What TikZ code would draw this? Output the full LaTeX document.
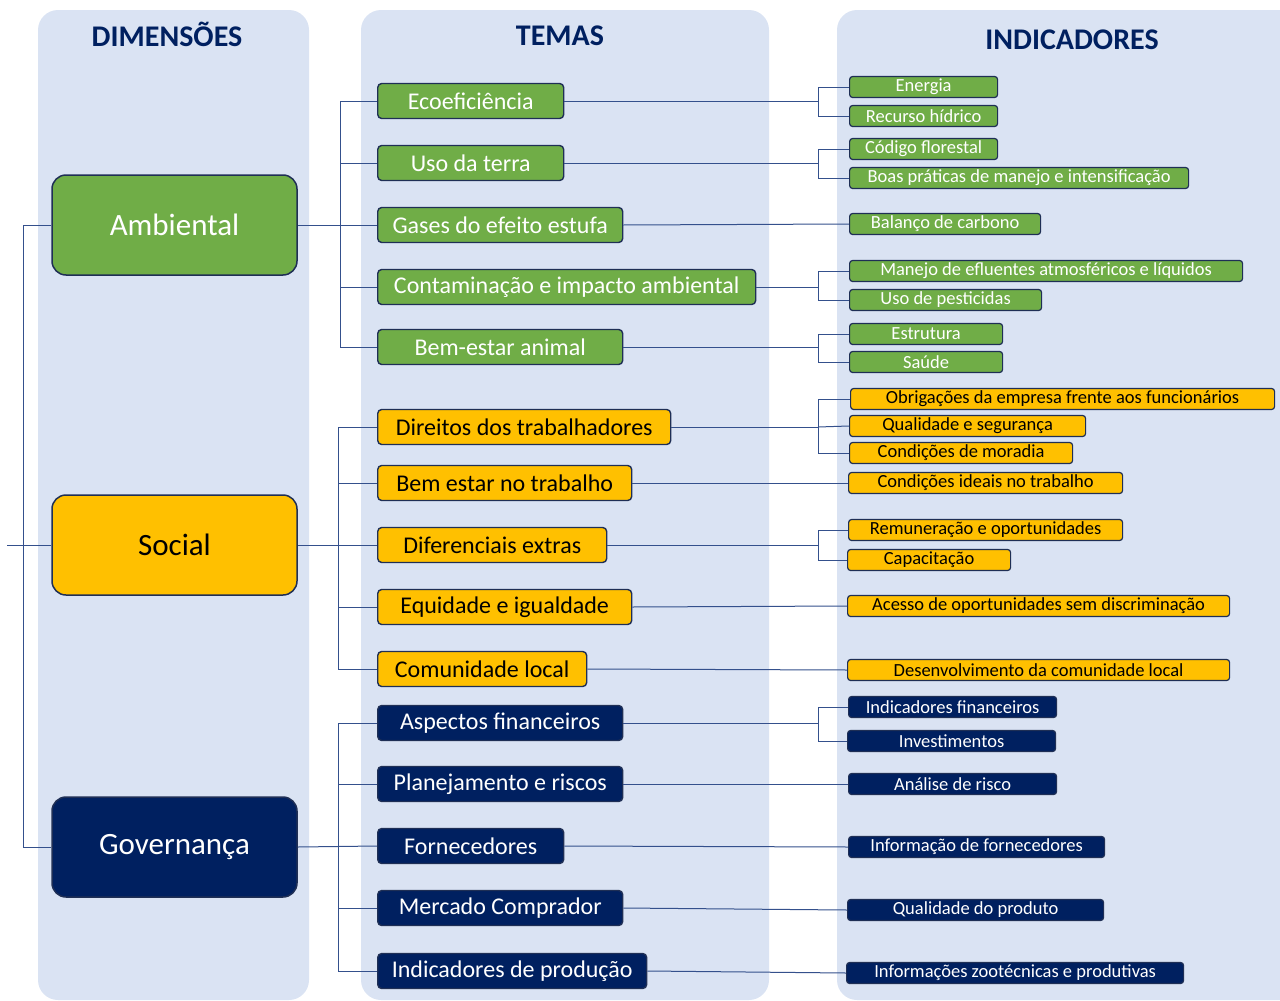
\documentclass[tikz,border=0pt]{standalone}
\usepackage{fontspec}
\setmainfont{Carlito}
\usepackage{tikz}
\definecolor{painel}{HTML}{DAE3F3}
\definecolor{verde}{HTML}{70AD47}
\definecolor{ouro}{HTML}{FFC000}
\definecolor{marinho}{HTML}{002060}
\definecolor{borda}{HTML}{1F2F55}
\definecolor{linha}{HTML}{34508C}

\begin{document}
\begin{tikzpicture}[x=1pt, y=-1pt]
	\tikzstyle{dim} = [rectangle, rounded corners=14pt, draw=borda, line width=1.5pt, minimum width=245pt, minimum height=100pt, font=\fontsize{31}{37}\selectfont]
	\tikzstyle{tema} = [rectangle, rounded corners=4pt, draw=borda, line width=1.4pt, anchor=west, minimum height=35pt, inner sep=0pt, font=\fontsize{24}{28}\selectfont]
	\tikzstyle{ind} = [rectangle, rounded corners=3pt, draw=borda, line width=1.2pt, anchor=west, minimum height=21pt, inner sep=0pt, font=\fontsize{18.5}{21}\selectfont]
	\tikzstyle{amb} = [fill=verde, text=white]
	\tikzstyle{soc} = [fill=ouro, text=black]
	\tikzstyle{gov} = [fill=marinho, text=white]
	\tikzstyle{con} = [draw=linha, line width=1pt]
	\tikzstyle{titulo} = [font=\bfseries\fontsize{30}{36}\selectfont, text=marinho]
	\useasboundingbox (0,0) rectangle (1280,1001);
	
	% colunas
	\fill[painel, rounded corners=20pt] (38,10) rectangle (309,1000);
	\fill[painel, rounded corners=20pt] (361,10) rectangle (769,1000);
	\fill[painel, rounded corners=20pt] (837,10) rectangle (1310,1000);
	
	\node[titulo] (hDim) at (167,34) {DIMENSÕES};
	\node[titulo] (hTem) at (560,36) {TEMAS};
	\node[titulo] (hInd) at (1072,40) {INDICADORES};
	
	% dimensoes
	\node[dim, amb] (Amb) at (174.5,225) {Ambiental};
	\node[dim, soc] (Soc) at (174.5,545) {Social};
	\node[dim, gov] (Gov) at (174.5,847) {Governança};
	
	% temas
	\node[tema, amb, minimum width=186pt] (T1) at (377,101) {Ecoeficiência};
	\node[tema, amb, minimum width=186pt] (T2) at (377,163) {Uso da terra};
	\node[tema, amb, minimum width=245pt] (T3) at (377,225) {Gases do efeito estufa};
	\node[tema, amb, minimum width=378pt] (T4) at (377,287) {Contaminação e impacto ambiental};
	\node[tema, amb, minimum width=245pt] (T5) at (377,347) {Bem-estar animal};
	
	\node[tema, soc, minimum width=293pt] (T6) at (377,427) {Direitos dos trabalhadores};
	\node[tema, soc, minimum width=254pt] (T7) at (377,483) {Bem estar no trabalho};
	\node[tema, soc, minimum width=229pt] (T8) at (377,545) {Diferenciais extras};
	\node[tema, soc, minimum width=254pt] (T9) at (377,607) {Equidade e igualdade};
	\node[tema, soc, minimum width=209pt] (T10) at (377,669) {Comunidade local};
	
	\node[tema, gov, minimum width=245pt] (T11) at (377,723) {Aspectos financeiros};
	\node[tema, gov, minimum width=245pt] (T12) at (377,784) {Planejamento e riscos};
	\node[tema, gov, minimum width=186pt] (T13) at (377,846) {Fornecedores};
	\node[tema, gov, minimum width=245pt] (T14) at (377,908) {Mercado Comprador};
	\node[tema, gov, minimum width=269pt] (T15) at (377,971) {Indicadores de produção};
	
	% indicadores
	\node[ind, amb, minimum width=148pt] (I1) at (849,87) {Energia};
	\node[ind, amb, minimum width=148pt] (I2) at (849,116) {Recurso hídrico};
	\node[ind, amb, minimum width=148pt] (I3) at (849,149) {Código florestal};
	\node[ind, amb, minimum width=339pt] (I4) at (849,178) {Boas práticas de manejo e intensificação};
	\node[ind, amb, minimum width=191pt] (I5) at (849,224) {Balanço de carbono};
	\node[ind, amb, minimum width=393pt] (I6) at (849,271) {Manejo de efluentes atmosféricos e líquidos};
	\node[ind, amb, minimum width=192pt] (I7) at (849,300) {Uso de pesticidas};
	\node[ind, amb, minimum width=153pt] (I8) at (849,334) {Estrutura};
	\node[ind, amb, minimum width=153pt] (I9) at (849,362) {Saúde};
	
	\node[ind, soc, minimum width=424pt] (I10) at (850,399) {Obrigações da empresa frente aos funcionários};
	\node[ind, soc, minimum width=236pt] (I11) at (849,426) {Qualidade e segurança};
	\node[ind, soc, minimum width=223pt] (I12) at (849,453) {Condições de moradia};
	\node[ind, soc, minimum width=274pt] (I13) at (848,483) {Condições ideais no trabalho};
	\node[ind, soc, minimum width=274pt] (I14) at (848,530) {Remuneração e oportunidades};
	\node[ind, soc, minimum width=163pt] (I15) at (847,560) {Capacitação};
	\node[ind, soc, minimum width=382pt] (I16) at (847,606) {Acesso de oportunidades sem discriminação};
	\node[ind, soc, minimum width=382pt] (I17) at (847,670) {Desenvolvimento da comunidade local};
	
	\node[ind, gov, minimum width=208pt] (I18) at (848,707) {Indicadores financeiros};
	\node[ind, gov, minimum width=208pt] (I19) at (847,741) {Investimentos};
	\node[ind, gov, minimum width=208pt] (I20) at (848,784) {Análise de risco};
	\node[ind, gov, minimum width=256pt] (I21) at (848,847) {Informação de fornecedores};
	\node[ind, gov, minimum width=256pt] (I22) at (847,910) {Qualidade do produto};
	\node[ind, gov, minimum width=337pt] (I23) at (846,973) {Informações zootécnicas e produtivas};
	
	% ligacoes dimensoes
	\coordinate (ls) at (23,0);
	\coordinate (sl) at (7,545);
	\draw[con] (Amb.west) -- (Amb.west -| ls) -- (Gov.west -| ls) -- (Gov.west);
	\draw[con] (sl) -- (Soc.west);
	
	% ligacoes temas
	\coordinate (spA) at (340,0);
	\coordinate (spS) at (338,0);
	\draw[con] (Amb.east) -- (T3.west);
	\draw[con] (T1.west) -- (T1.west -| spA) -- (T5.west -| spA) -- (T5.west);
	\draw[con] (T2.west) -- (T2.west -| spA);
	\draw[con] (T4.west) -- (T4.west -| spA);
	
	\draw[con] (Soc.east) -- (T8.west);
	\draw[con] (T6.west) -- (T6.west -| spS) -- (T10.west -| spS) -- (T10.west);
	\draw[con] (T7.west) -- (T7.west -| spS);
	\draw[con] (T9.west) -- (T9.west -| spS);
	
	\draw[con] (Gov.east) -- (T13.west);
	\draw[con] (T11.west) -- (T11.west -| spS) -- (T15.west -| spS) -- (T15.west);
	\draw[con] (T12.west) -- (T12.west -| spS);
	\draw[con] (T14.west) -- (T14.west -| spS);
	
	% ligacoes indicadores
	\coordinate (b1) at (818,101);
	\coordinate (b2) at (818,163);
	\coordinate (b3) at (818,287);
	\coordinate (b4) at (818,347);
	\coordinate (b5) at (818,427);
	\coordinate (b6) at (818,545);
	\coordinate (b7) at (818,723);
	
	\draw[con] (T1.east) -- (b1);
	\draw[con] (b1) |- (I1.west);
	\draw[con] (b1) |- (I2.west);
	\draw[con] (T2.east) -- (b2);
	\draw[con] (b2) |- (I3.west);
	\draw[con] (b2) |- (I4.west);
	\draw[con] (T3.east) -- (I5.west);
	\draw[con] (T4.east) -- (b3);
	\draw[con] (b3) |- (I6.west);
	\draw[con] (b3) |- (I7.west);
	\draw[con] (T5.east) -- (b4);
	\draw[con] (b4) |- (I8.west);
	\draw[con] (b4) |- (I9.west);
	
	\draw[con] (T6.east) -- (b5);
	\draw[con] (b5) |- (I10.west);
	\draw[con] (b5) -- (I11.west);
	\draw[con] (b5) |- (I12.west);
	\draw[con] (T7.east) -- (I13.west);
	\draw[con] (T8.east) -- (b6);
	\draw[con] (b6) |- (I14.west);
	\draw[con] (b6) |- (I15.west);
	\draw[con] (T9.east) -- (I16.west);
	\draw[con] (T10.east) -- (I17.west);
	
	\draw[con] (T11.east) -- (b7);
	\draw[con] (b7) |- (I18.west);
	\draw[con] (b7) |- (I19.west);
	\draw[con] (T12.east) -- (I20.west);
	\draw[con] (T13.east) -- (I21.west);
	\draw[con] (T14.east) -- (I22.west);
	\draw[con] (T15.east) -- (I23.west);
	
\end{tikzpicture}
\end{document}
